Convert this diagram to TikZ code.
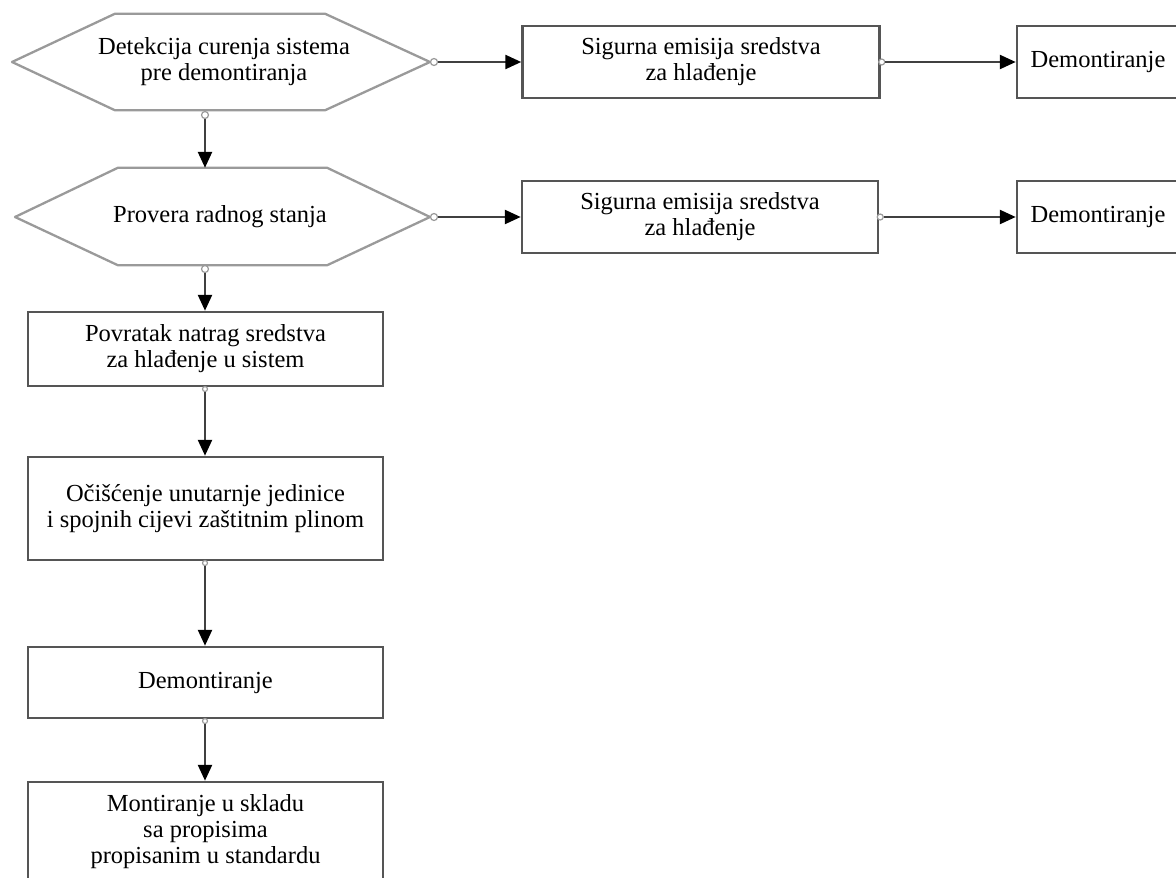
\documentclass[tikz,border=0pt]{standalone}
\usepackage{fontspec}
\setmainfont{Liberation Serif}
\usetikzlibrary{arrows.meta,calc}
\definecolor{hexgray}{HTML}{9A9A9A}
\definecolor{boxgray}{HTML}{555555}
\definecolor{linegray}{HTML}{404040}
\begin{document}
\begin{tikzpicture}[x=1pt,y=-1pt,
  txt/.style={font=\fontsize{24.5}{26}\selectfont, align=center},
  box/.style={txt, draw=boxgray, line width=2.5pt, fill=white, inner sep=0pt},
  hexcore/.style={txt, inner sep=0pt},
  hexline/.style={draw=hexgray, line width=2.3pt, line join=round},
  arr/.style={draw=linegray, line width=2.5pt, -{Triangle[length=16pt,width=14pt,color=black]}},
  dot/.style={circle, draw=hexgray, fill=white, line width=1.2pt, minimum size=7pt, inner sep=0pt}
]
\useasboundingbox (0,0) rectangle (1176,878);
\clip (0,0) rectangle (1176,878);

% hexagon 1
\node[hexcore, minimum width=210pt, minimum height=96pt] (h1) at (220,62) {};
\node[txt] (h1t) at (224,62) {Detekcija curenja sistema\\pre demontiranja};
\coordinate (h1l) at (12,62);
\coordinate (h1r) at (430,62);
\draw[hexline] (h1.north west) -- (h1.north east) -- (h1r) -- (h1.south east) -- (h1.south west) -- (h1l) -- cycle;

% hexagon 2
\node[hexcore, minimum width=209pt, minimum height=97pt] (h2) at (222.5,216.5) {};
\node[txt] (h2t) at (220,217) {Provera radnog stanja};
\coordinate (h2l) at (15,217);
\coordinate (h2r) at (430,217);
\draw[hexline] (h2.north west) -- (h2.north east) -- (h2r) -- (h2.south east) -- (h2.south west) -- (h2l) -- cycle;

% right column boxes
\node[box, minimum width=357pt, minimum height=72pt] (b1) at (701,62) {Sigurna emisija sredstva\\za hlađenje};
\node[box, minimum width=356pt, minimum height=72pt] (b2) at (700,217) {Sigurna emisija sredstva\\za hlađenje};
\node[box, minimum width=162pt, minimum height=72pt, text width=150pt] (d1) at (1098,62) {Demontiranje};
\node[box, minimum width=162pt, minimum height=72pt, text width=150pt] (d2) at (1098,217) {Demontiranje};

% left column boxes
\node[box, minimum width=355pt, minimum height=74pt] (b3) at (205.5,349) {Povratak natrag sredstva\\za hlađenje u sistem};
\node[box, minimum width=355pt, minimum height=103pt] (b4) at (205.5,508.5) {Očišćenje unutarnje jedinice\\i spojnih cijevi zaštitnim plinom};
\node[box, minimum width=355pt, minimum height=71pt] (b5) at (205.5,682.5) {Demontiranje};
\node[box, minimum width=355pt, minimum height=100pt] (b6) at (205.5,832) {Montiranje u skladu\\sa propisima\\propisanim u standardu};

% connector dots
\node[dot] (c1) at ($(h1r)+(4,0)$) {};
\node[dot] (c2) at ($(h2r)+(4,0)$) {};
\node[dot, minimum size=6pt] (c3) at ($(b1.east)+(1,0)$) {};
\node[dot, minimum size=6pt] (c4) at ($(b2.east)+(1,0)$) {};
\node[dot] (v1) at (205,115) {};
\node[dot] (v2) at (205,269) {};
\node[dot, minimum size=5pt] (v3) at (205,389) {};
\node[dot, minimum size=5pt] (v4) at (205,563) {};
\node[dot, minimum size=5pt] (v5) at (205,721) {};

% horizontal arrows
\draw[arr] (c1) -- (b1.west);
\draw[arr] (c2) -- (b2.west);
\draw[arr] (c3) -- (d1.west);
\draw[arr] (c4) -- (d2.west);

% vertical arrows
\draw[arr] (v1) -- (v1 |- h2.north);
\draw[arr] (v2) -- (v2 |- b3.north);
\draw[arr] (v3) -- (v3 |- b4.north);
\draw[arr] (v4) -- (v4 |- b5.north);
\draw[arr] (v5) -- (v5 |- b6.north);
\end{tikzpicture}
\end{document}
